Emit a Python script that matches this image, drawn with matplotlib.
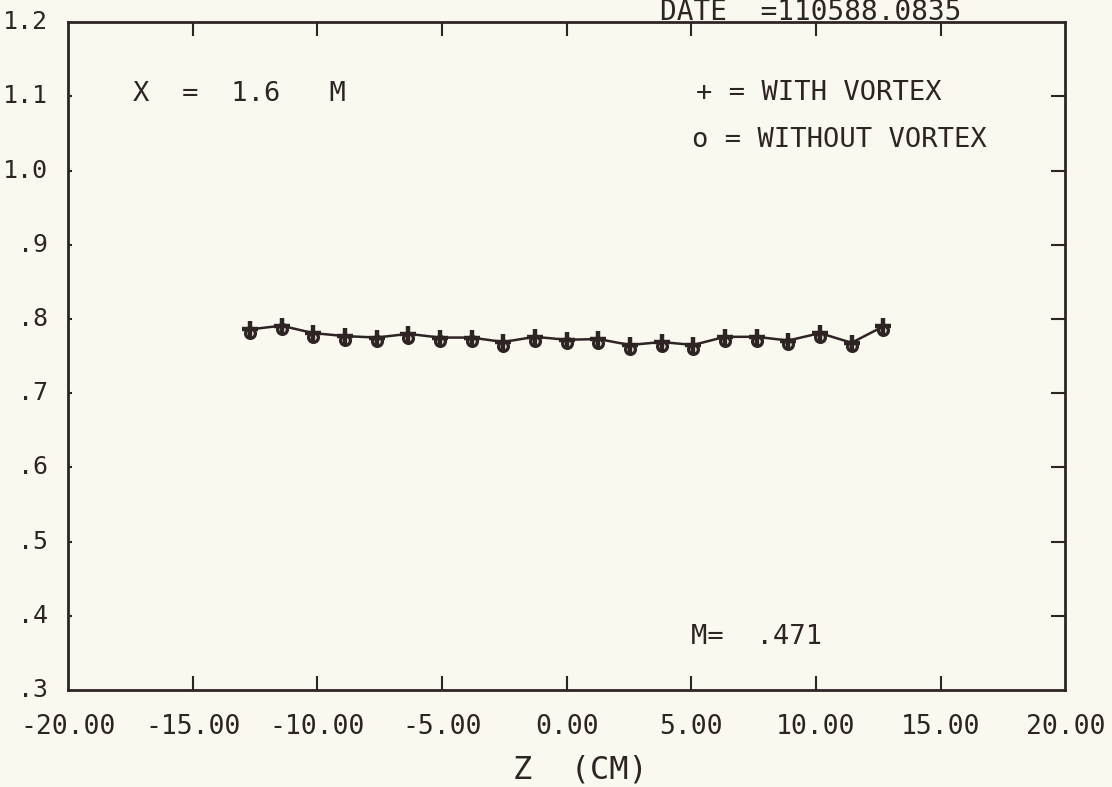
import matplotlib
matplotlib.use('Agg')
from matplotlib import pyplot as plt

z_cm = [-12.70, -11.43, -10.16, -8.89, -7.62, -6.35, -5.08, -3.81, -2.54, -1.27, 0.00,
        1.27, 2.54, 3.81, 5.08, 6.35, 7.62, 8.89, 10.16, 11.43, 12.70]
with_vortex = [0.786, 0.791, 0.781, 0.777, 0.775, 0.780, 0.775, 0.775, 0.769, 0.776, 0.772,
               0.773, 0.765, 0.769, 0.765, 0.776, 0.776, 0.771, 0.781, 0.768, 0.790]
without_vortex = [0.781, 0.786, 0.776, 0.772, 0.770, 0.775, 0.770, 0.770, 0.764, 0.771, 0.767,
                  0.768, 0.760, 0.764, 0.760, 0.771, 0.771, 0.766, 0.776, 0.763, 0.785]

x_ticks = [-20, -15, -10, -5, 0, 5, 10, 15, 20]
x_labels = ['-20.00', '-15.00', '-10.00', '-5.00', '0.00', '5.00', '10.00', '15.00', '20.00']
y_ticks = [0.3, 0.4, 0.5, 0.6, 0.7, 0.8, 0.9, 1.0, 1.1, 1.2]
y_labels = ['.3', '.4', '.5', '.6', '.7', '.8', '.9', '1.0', '1.1', '1.2']

bg = '#f9f9ef'
ink = '#2e2424'
font = 'DejaVu Sans Mono'

fig = plt.figure(figsize=(11.12, 7.87), dpi=100, facecolor=bg)
ax = fig.add_axes([0.061, 0.123, 0.897, 0.849], facecolor=bg)

ax.plot(z_cm, without_vortex, 'o', color=ink, mfc='none', ms=7, mew=2.4)
ax.plot(z_cm, with_vortex, '-', color=ink, lw=1.8, marker='+', ms=12, mew=3.2)

ax.set_xlim(-20, 20)
ax.set_ylim(0.3, 1.2)
ax.set_xticks(x_ticks[1:-1])
ax.set_yticks(y_ticks[1:-1])
ax.tick_params(which='both', direction='in', length=10, width=1.5, color=ink,
               top=True, right=True, labelbottom=False, labelleft=False)
for t in ax.yaxis.get_major_ticks():
    t.tick1line.set_markersize(3)
for s in ax.spines.values():
    s.set_color(ink)
    s.set_linewidth(2)

# tick labels placed by hand like the plotter output
for xt, lab in zip(x_ticks, x_labels):
    ax.text(xt, -0.055, lab, transform=ax.get_xaxis_transform(), ha='center', va='center',
            fontsize=19, family=font, color=ink)
for yt, lab in zip(y_ticks, y_labels):
    ax.text(-0.02, yt, lab, transform=ax.get_yaxis_transform(), ha='right', va='center',
            fontsize=18, family=font, color=ink)

fig.text(580 / 1112, 1 - 770 / 787, 'Z  (CM)', ha='center', va='center',
         fontsize=23, family=font, color=ink)
fig.text(660 / 1112, 1 - 20 / 787, 'DATE  =110588.0835', ha='left', va='baseline',
         fontsize=20, family=font, color=ink)

ax.text(-17.4, 1.103, 'X  =  1.6   M', ha='left', va='center', fontsize=19.5, family=font, color=ink)
ax.text(5.2, 1.105, '+ = WITH VORTEX', ha='left', va='center', fontsize=19.5, family=font, color=ink)
ax.text(5.05, 1.041, 'o = WITHOUT VORTEX', ha='left', va='center', fontsize=19.5, family=font, color=ink)
ax.text(5.0, 0.372, 'M=  .471', ha='left', va='center', fontsize=19.5, family=font, color=ink)

fig.savefig('out.png', dpi=100, facecolor=bg)
